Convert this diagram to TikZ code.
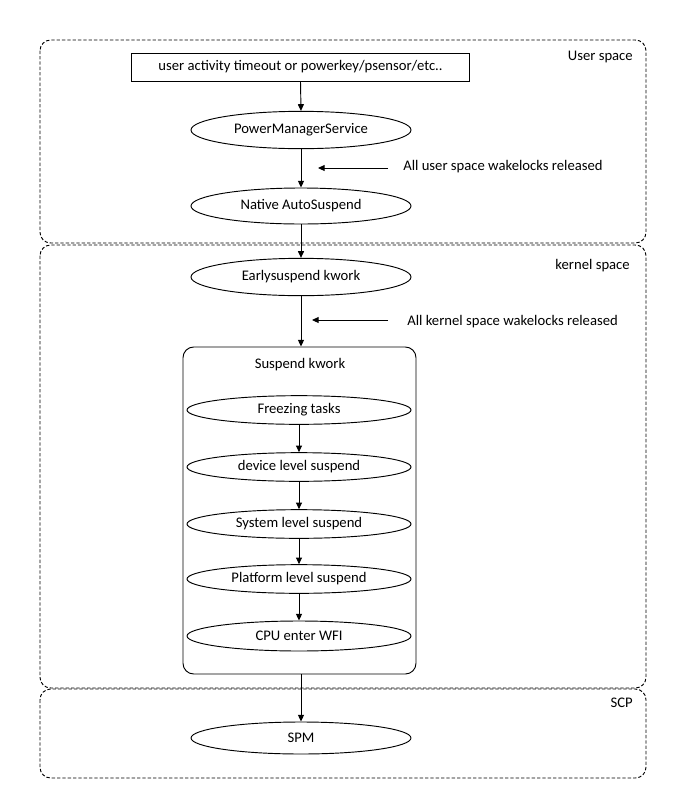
\documentclass[tikz,border=0pt]{standalone}
\usepackage{fontspec}
\setmainfont{Carlito}
\usetikzlibrary{shapes.geometric,arrows.meta}
\begin{document}
\begin{tikzpicture}[x=0.75pt,y=-0.75pt,
  every node/.style={font=\fontsize{11}{13}\selectfont},
  region/.style={draw, dashed, dash pattern=on 2.5pt off 1.5pt, rounded corners=8pt, line width=0.7pt},
  oval/.style={draw, ellipse, line width=0.7pt, inner sep=0pt, minimum width=165pt, minimum height=28pt},
  smalloval/.style={draw, ellipse, line width=0.7pt, inner sep=0pt, minimum width=168pt, minimum height=21.5pt},
  flow/.style={-{Triangle[length=5pt,width=4.5pt]}, line width=0.7pt},
  lbl/.style={anchor=west, inner sep=0pt}
]
\useasboundingbox (0,0) rectangle (673,804);
% regions
\draw[region] (40,40) rectangle (646,243);
\draw[region] (40,245) rectangle (646,688);
\draw[region] (40,689) rectangle (646,778);
\node[lbl, anchor=east] (lu) at (633,57) {User space};
\node[lbl, anchor=east] (lk) at (630,266) {kernel space};
\node[lbl, anchor=east] (ls) at (633,703) {SCP};
% nodes
\node[draw, line width=0.7pt, minimum width=254pt, minimum height=21pt, inner sep=0pt] (trig) at (300.5,67) {user activity timeout or powerkey/psensor/etc..};
\node[oval] (pms) at (301,130) {PowerManagerService};
\node[oval, minimum height=27pt] (nas) at (301,206) {Native AutoSuspend};
\node[oval] (early) at (301,277) {Earlysuspend kwork};
\node[draw, rounded corners=8pt, line width=0.7pt, minimum width=174.75pt, minimum height=245.25pt, inner sep=0pt] (sk) at (299.5,510.5) {};
\node (skl) at (300,365) {Suspend kwork};
\node[smalloval] (ft) at (299,410) {Freezing tasks};
\node[smalloval] (dls) at (299,467) {device level suspend};
\node[smalloval] (sls) at (299,524) {System level suspend};
\node[smalloval] (pls) at (299,579) {Platform level suspend};
\node[smalloval, minimum height=22.5pt] (cpu) at (299,636) {CPU enter WFI};
\node[oval, minimum height=24pt] (spm) at (301,738) {SPM};
% side labels
\node[lbl] (uwl) at (403,167) {All user space wakelocks released};
\node[lbl] (kwl) at (407,322) {All kernel space wakelocks released};
\coordinate (ua) at (388,168);
\coordinate (ub) at (318,168);
\coordinate (ka) at (388,320);
\coordinate (kb) at (312,320);
% connectors
\draw[flow] (trig.south) -- (pms.north);
\draw[flow] (pms.south) -- (nas.north);
\draw[flow] (nas.south) -- (early.north);
\draw[flow] (early.south) -- (early.south |- sk.north);
\draw[flow] (ft.south -| dls.north) -- (dls.north);
\draw[flow] (dls.south) -- (sls.north);
\draw[flow] (sls.south) -- (pls.north);
\draw[flow] (pls.south) -- (cpu.north);
\draw[flow] (spm.north |- sk.south) -- (spm.north);
\draw[flow] (ua) -- (ub);
\draw[flow] (ka) -- (kb);
\end{tikzpicture}
\end{document}
